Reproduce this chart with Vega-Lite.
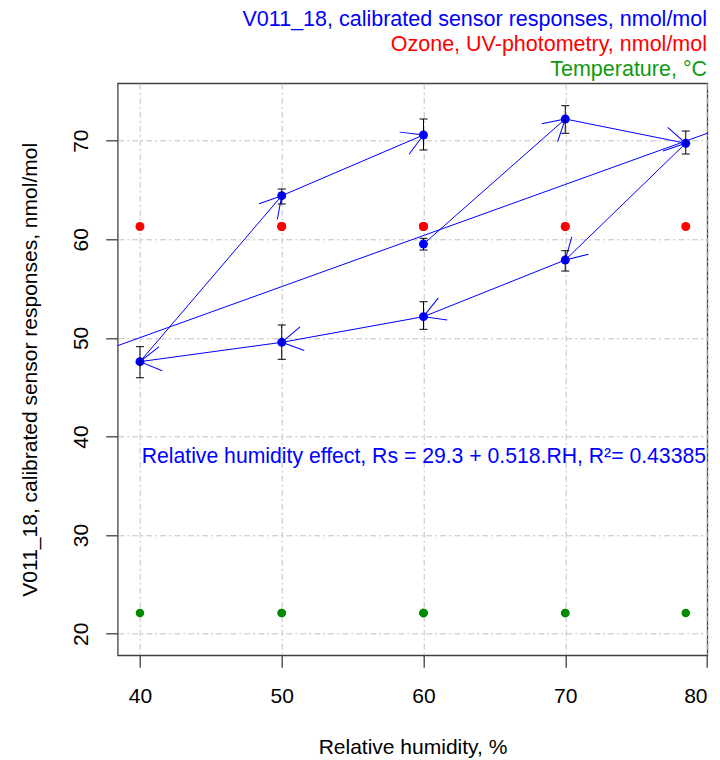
{
  "$schema": "https://vega.github.io/schema/vega-lite/v6.json",
  "width": 589.6,
  "height": 572,
  "autosize": "none",
  "padding": {"left": 117.7, "top": 83.3, "right": 12.7, "bottom": 104.7},
  "background": "white",
  "config": {
    "font": "Liberation Sans",
    "view": {"stroke": "#404040", "strokeWidth": 1.3},
    "axis": {
      "domain": false,
      "grid": true,
      "gridColor": "#c0c0c0",
      "gridDash": [6, 3, 2, 3],
      "gridWidth": 1,
      "ticks": true,
      "tickSize": 12,
      "tickColor": "#404040",
      "tickWidth": 1.3,
      "labelFont": "Liberation Sans",
      "labelFontSize": 21,
      "labelColor": "#000000",
      "titleFont": "Liberation Sans",
      "titleFontSize": 21,
      "titleFontWeight": "normal",
      "titleColor": "#000000",
      "labelOverlap": false
    },
    "axisX": {"labelPadding": 18, "titlePadding": 30},
    "axisY": {"labelAngle": 270, "labelAlign": "center", "labelBaseline": "alphabetic", "labelPadding": 18, "titlePadding": 30}
  },
  "datasets": {
    "sensor": [
      {"order": 1, "rh": 60, "rs": 59.52, "lo": 58.91, "hi": 60.1, "o3": 61.3, "t": 22.1},
      {"order": 2, "rh": 70, "rs": 72.2, "lo": 70.75, "hi": 73.55, "o3": 61.3, "t": 22.1},
      {"order": 3, "rh": 78.5, "rs": 69.74, "lo": 68.65, "hi": 70.98, "o3": 61.3, "t": 22.1},
      {"order": 4, "rh": 70, "rs": 57.9, "lo": 56.78, "hi": 58.84, "o3": 61.3, "t": 22.1},
      {"order": 5, "rh": 60, "rs": 52.15, "lo": 50.87, "hi": 53.67, "o3": 61.3, "t": 22.1},
      {"order": 6, "rh": 50, "rs": 49.55, "lo": 47.83, "hi": 51.31, "o3": 61.3, "t": 22.1},
      {"order": 7, "rh": 40, "rs": 47.59, "lo": 45.96, "hi": 49.11, "o3": 61.3, "t": 22.1},
      {"order": 8, "rh": 50, "rs": 64.42, "lo": 63.58, "hi": 65.1, "o3": 61.3, "t": 22.1},
      {"order": 9, "rh": 60, "rs": 70.58, "lo": 69.06, "hi": 72.2, "o3": 61.3, "t": 22.1}
    ],
    "fit": [
      {"rh": 38.43, "rs": 49.21},
      {"rh": 80.02, "rs": 70.75}
    ]
  },
  "layer": [
    {
      "data": {"name": "fit"},
      "mark": {"type": "line", "color": "#0000ff", "strokeWidth": 1},
      "encoding": {
        "x": {"field": "rh", "type": "quantitative", "scale": {"domain": [38.43, 80.02], "nice": false, "zero": false}, "axis": {"values": [40, 50, 60, 70, 80], "title": "Relative humidity, %"}},
        "y": {"field": "rs", "type": "quantitative", "scale": {"domain": [17.81, 75.82], "nice": false, "zero": false}, "axis": {"values": [20, 30, 40, 50, 60, 70], "title": "V011_18, calibrated sensor responses, nmol/mol"}}
      }
    },
    {
      "data": {"name": "sensor"},
      "mark": {"type": "circle", "color": "#ff0000", "size": 80, "opacity": 1},
      "encoding": {
        "x": {"field": "rh", "type": "quantitative", "title": "Relative humidity, %"},
        "y": {"field": "o3", "type": "quantitative", "title": "V011_18, calibrated sensor responses, nmol/mol"}
      }
    },
    {
      "data": {"name": "sensor"},
      "mark": {"type": "circle", "color": "#008b00", "size": 72, "opacity": 1},
      "encoding": {
        "x": {"field": "rh", "type": "quantitative", "title": "Relative humidity, %"},
        "y": {"field": "t", "type": "quantitative", "title": "V011_18, calibrated sensor responses, nmol/mol"}
      }
    },
    {
      "data": {"name": "sensor"},
      "mark": {"type": "circle", "color": "#0000ff", "size": 80, "opacity": 1},
      "encoding": {
        "x": {"field": "rh", "type": "quantitative", "title": "Relative humidity, %"},
        "y": {"field": "rs", "type": "quantitative", "title": "V011_18, calibrated sensor responses, nmol/mol"}
      }
    },
    {
      "data": {"name": "sensor"},
      "transform": [
        {"window": [{"op": "lead", "field": "rh", "as": "nx"}, {"op": "lead", "field": "rs", "as": "ny"}], "sort": [{"field": "order"}]},
        {"filter": "datum.nx != null"}
      ],
      "mark": {"type": "rule", "color": "#0000ff", "strokeWidth": 1},
      "encoding": {
        "x": {"field": "rh", "type": "quantitative", "title": "Relative humidity, %"},
        "y": {"field": "rs", "type": "quantitative", "title": "V011_18, calibrated sensor responses, nmol/mol"},
        "x2": {"field": "nx"},
        "y2": {"field": "ny"}
      }
    },
    {
      "data": {"name": "sensor"},
      "transform": [
        {"window": [{"op": "lead", "field": "rh", "as": "nx"}, {"op": "lead", "field": "rs", "as": "ny"}], "sort": [{"field": "order"}]},
        {"filter": "datum.nx != null"},
        {"calculate": "atan2(-(datum.ny - datum.rs) * 9.86, (datum.nx - datum.rh) * 14.177) * 180 / PI", "as": "ang"}
      ],
      "mark": {"type": "point", "shape": "M-0.866,-0.5L0,0L-0.866,0.5", "filled": false, "stroke": "#0000ff", "strokeWidth": 1, "size": 2304, "opacity": 1},
      "encoding": {
        "x": {"field": "nx", "type": "quantitative", "title": "Relative humidity, %"},
        "y": {"field": "ny", "type": "quantitative", "title": "V011_18, calibrated sensor responses, nmol/mol"},
        "angle": {"field": "ang", "type": "quantitative", "scale": null}
      }
    },
    {
      "data": {"name": "sensor"},
      "mark": {"type": "rule", "color": "#000000", "strokeWidth": 1},
      "encoding": {
        "x": {"field": "rh", "type": "quantitative", "title": "Relative humidity, %"},
        "y": {"field": "lo", "type": "quantitative", "title": "V011_18, calibrated sensor responses, nmol/mol"},
        "y2": {"field": "hi"}
      }
    },
    {
      "data": {"name": "sensor"},
      "transform": [{"fold": ["lo", "hi"], "as": ["end", "val"]}],
      "mark": {"type": "tick", "orient": "horizontal", "color": "#000000", "size": 8, "thickness": 1, "opacity": 1},
      "encoding": {
        "x": {"field": "rh", "type": "quantitative", "title": "Relative humidity, %"},
        "y": {"field": "val", "type": "quantitative", "title": "V011_18, calibrated sensor responses, nmol/mol"}
      }
    },
    {
      "data": {"values": [{}]},
      "mark": {"type": "text", "align": "right", "baseline": "middle", "color": "#0000ff", "fontSize": 21.5, "font": "Liberation Sans", "text": "V011_18, calibrated sensor responses, nmol/mol"},
      "encoding": {
        "x": {"datum": 80, "type": "quantitative", "title": "Relative humidity, %"},
        "y": {"datum": 82.19, "type": "quantitative", "title": "V011_18, calibrated sensor responses, nmol/mol"}
      }
    },
    {
      "data": {"values": [{}]},
      "mark": {"type": "text", "align": "right", "baseline": "middle", "color": "#ff0000", "fontSize": 21.5, "font": "Liberation Sans", "text": "Ozone, UV-photometry, nmol/mol"},
      "encoding": {
        "x": {"datum": 80, "type": "quantitative", "title": "Relative humidity, %"},
        "y": {"datum": 79.69, "type": "quantitative", "title": "V011_18, calibrated sensor responses, nmol/mol"}
      }
    },
    {
      "data": {"values": [{}]},
      "mark": {"type": "text", "align": "right", "baseline": "middle", "color": "#119911", "fontSize": 21.5, "font": "Liberation Sans", "text": "Temperature, °C"},
      "encoding": {
        "x": {"datum": 80, "type": "quantitative", "title": "Relative humidity, %"},
        "y": {"datum": 77.12, "type": "quantitative", "title": "V011_18, calibrated sensor responses, nmol/mol"}
      }
    },
    {
      "data": {"values": [{}]},
      "mark": {"type": "text", "align": "right", "baseline": "middle", "color": "#0000ff", "fontSize": 21.2, "font": "Liberation Sans", "dx": -1, "text": "Relative humidity effect, Rs = 29.3 + 0.518.RH, R²= 0.43385"},
      "encoding": {
        "x": {"datum": 80, "type": "quantitative", "title": "Relative humidity, %"},
        "y": {"datum": 37.9, "type": "quantitative", "title": "V011_18, calibrated sensor responses, nmol/mol"}
      }
    }
  ]
}
